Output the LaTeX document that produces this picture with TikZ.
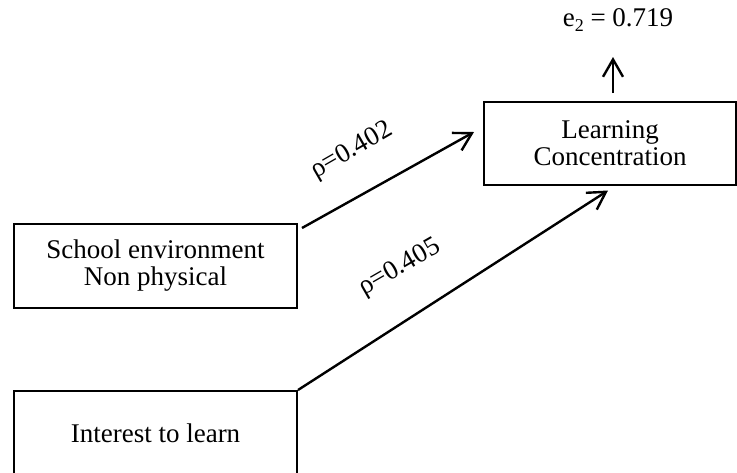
\documentclass[tikz,border=0pt]{standalone}
\usepackage{fontspec}
\setmainfont{Liberation Serif}
\usetikzlibrary{arrows.meta}
\begin{document}
\begin{tikzpicture}[x=0.5pt,y=-0.5pt,
  box/.style={draw,line width=1pt,rectangle,align=center,inner sep=0pt,
    font=\fontsize{13.5}{13.5}\selectfont},
  lbl/.style={font=\fontsize{13.5}{13.5}\selectfont,inner sep=0pt},
  arr/.style={line width=1.2pt,-{Straight Barb[length=8.7pt,width=10pt,line width=1.2pt]}}]
\useasboundingbox (0,0) rectangle (737,472);
\node[box,minimum width=126pt,minimum height=41.5pt] (LC) at (610,143) {Learning\\Concentration};
\node[box,minimum width=141.5pt,minimum height=42pt] (SE) at (155.5,266) {School environment\\Non physical};
\node[box,minimum width=141.5pt,minimum height=42pt] (IL) at (155.5,433) {Interest to learn};
\node[lbl] (e2) at (618,20) {e\raisebox{-0.35ex}{\fontsize{9}{9}\selectfont 2} = 0.719};
\coordinate (up1) at (613,93);
\coordinate (up2) at (613,57);
\draw[arr] (up1) -- (up2);
\draw[arr] ([shift={(4,5)}]SE.north east) -- ([shift={(-9,-11)}]LC.west);
\draw[arr] (IL.north east) -- ([shift={(125,5)}]LC.south west);
\node[lbl,rotate=30] (r1) at (352,151) {ρ=0.402};
\node[lbl,rotate=30] (r2) at (400,268) {ρ=0.405};
\end{tikzpicture}
\end{document}
